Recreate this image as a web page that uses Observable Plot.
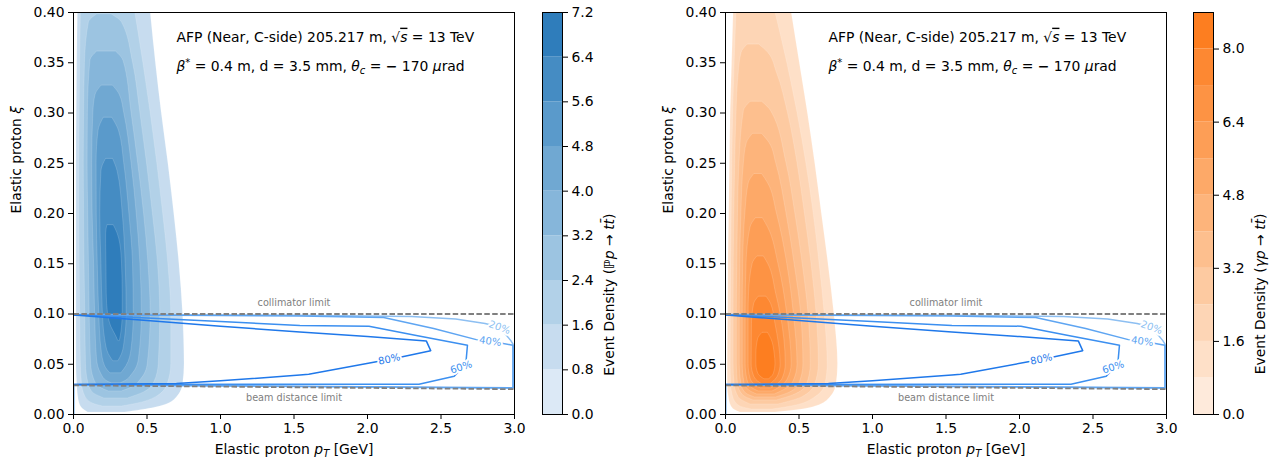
<!DOCTYPE html>
<html><head><meta charset="utf-8">
<script src="https://cdn.jsdelivr.net/npm/d3@7"></script>
<script src="https://cdn.jsdelivr.net/npm/@observablehq/plot@0.6"></script>
<style>
body{margin:0;background:#fff;width:1273px;height:457px;overflow:hidden;position:relative;font-family:"DejaVu Sans";}
.part{position:absolute;top:0;}
svg{overflow:visible;}
</style></head><body>
<div id="p1" class="part" style="left:0px"></div>
<div id="c1" class="part" style="left:521px"></div>
<div id="p2" class="part" style="left:652px"></div>
<div id="c2" class="part" style="left:1172px"></div>
<script>
// ---------- ticks & levels ----------
const xTicks = [0, 0.5, 1.0, 1.5, 2.0, 2.5, 3.0];
const yTicks = [0, 0.05, 0.10, 0.15, 0.20, 0.25, 0.30, 0.35, 0.40];
const blueBounds = [0, 0.8, 1.6, 2.4, 3.2, 4.0, 4.8, 5.6, 6.4, 7.2];
const blueTicks = [0, 0.8, 1.6, 2.4, 3.2, 4.0, 4.8, 5.6, 6.4, 7.2];
const orangeBounds = [0, 0.8, 1.6, 2.4, 3.2, 4.0, 4.8, 5.6, 6.4, 7.2, 8.0, 8.8];
const orangeTicks = [0, 1.6, 3.2, 4.8, 6.4, 8.0];

// ---------- density bands (PP -> tt): [xi, pT left, pT right], band k = level k..k+1 ----------
const blueBand1 = [[0.400,0.030,0.525],[0.350,0.025,0.560],[0.300,0.022,0.600],[0.250,0.020,0.645],[0.200,0.020,0.685],[0.150,0.020,0.720],[0.100,0.020,0.745],[0.050,0.020,0.755],[0.030,0.025,0.745],[0.015,0.035,0.690],[0.007,0.055,0.560],[0.002,0.100,0.350]];
const blueBand2 = [[0.400,0.050,0.420],[0.350,0.045,0.475],[0.300,0.042,0.525],[0.250,0.040,0.570],[0.200,0.040,0.610],[0.150,0.042,0.645],[0.100,0.045,0.665],[0.050,0.050,0.665],[0.030,0.058,0.640],[0.018,0.080,0.570],[0.011,0.130,0.440],[0.008,0.200,0.330]];
const blueBand3 = [[0.398,0.160,0.260],[0.390,0.105,0.330],[0.350,0.078,0.405],[0.300,0.072,0.455],[0.250,0.070,0.500],[0.200,0.072,0.540],[0.150,0.075,0.575],[0.100,0.080,0.590],[0.050,0.085,0.580],[0.032,0.100,0.550],[0.022,0.130,0.480],[0.016,0.210,0.370]];
const blueBand4 = [[0.361,0.160,0.290],[0.352,0.115,0.340],[0.300,0.098,0.395],[0.250,0.096,0.440],[0.200,0.100,0.480],[0.150,0.105,0.510],[0.100,0.110,0.525],[0.050,0.120,0.505],[0.035,0.140,0.460],[0.027,0.180,0.400],[0.023,0.240,0.330]];
const blueBand5 = [[0.327,0.190,0.270],[0.318,0.150,0.315],[0.300,0.135,0.345],[0.250,0.127,0.395],[0.200,0.130,0.430],[0.150,0.140,0.455],[0.100,0.147,0.465],[0.055,0.160,0.445],[0.040,0.190,0.400],[0.033,0.230,0.350],[0.031,0.260,0.320]];
const blueBand6 = [[0.295,0.205,0.265],[0.282,0.170,0.310],[0.250,0.157,0.345],[0.200,0.158,0.380],[0.150,0.165,0.405],[0.100,0.175,0.410],[0.065,0.190,0.395],[0.048,0.215,0.360],[0.041,0.250,0.325]];
const blueBand7 = [[0.254,0.220,0.270],[0.242,0.190,0.300],[0.200,0.182,0.335],[0.150,0.190,0.355],[0.100,0.200,0.362],[0.075,0.215,0.350],[0.060,0.240,0.330],[0.053,0.270,0.305]];
const blueBand8 = [[0.188,0.230,0.275],[0.180,0.222,0.300],[0.170,0.222,0.318],[0.150,0.224,0.330],[0.120,0.226,0.335],[0.100,0.235,0.335],[0.087,0.258,0.330],[0.078,0.290,0.322],[0.073,0.305,0.315]];

// ---------- density bands (gamma p -> tt) ----------
const orangeBand1 = [[0.400,0.055,0.450],[0.350,0.045,0.505],[0.300,0.035,0.560],[0.250,0.030,0.610],[0.200,0.025,0.655],[0.150,0.020,0.700],[0.100,0.018,0.740],[0.050,0.015,0.765],[0.030,0.015,0.755],[0.015,0.025,0.700],[0.006,0.050,0.560],[0.002,0.100,0.340]];
const orangeBand2 = [[0.400,0.075,0.340],[0.350,0.062,0.420],[0.300,0.052,0.490],[0.250,0.046,0.550],[0.200,0.042,0.600],[0.150,0.038,0.640],[0.100,0.036,0.675],[0.050,0.035,0.695],[0.030,0.038,0.680],[0.016,0.055,0.600],[0.008,0.100,0.450],[0.005,0.180,0.320]];
const orangeBand3 = [[0.368,0.150,0.230],[0.360,0.110,0.290],[0.340,0.090,0.350],[0.300,0.075,0.425],[0.250,0.066,0.490],[0.200,0.060,0.540],[0.150,0.056,0.585],[0.100,0.055,0.620],[0.050,0.055,0.635],[0.030,0.062,0.610],[0.017,0.090,0.520],[0.010,0.170,0.360]];
const orangeBand4 = [[0.311,0.170,0.250],[0.302,0.125,0.310],[0.250,0.095,0.415],[0.200,0.085,0.475],[0.150,0.080,0.525],[0.100,0.077,0.565],[0.050,0.077,0.580],[0.030,0.085,0.555],[0.019,0.120,0.460],[0.014,0.190,0.350]];
const orangeBand5 = [[0.279,0.185,0.250],[0.270,0.145,0.300],[0.250,0.125,0.345],[0.200,0.108,0.415],[0.150,0.100,0.470],[0.100,0.097,0.515],[0.050,0.097,0.530],[0.030,0.108,0.500],[0.021,0.140,0.425],[0.017,0.200,0.345]];
const orangeBand6 = [[0.239,0.195,0.250],[0.230,0.158,0.290],[0.200,0.135,0.350],[0.150,0.120,0.420],[0.100,0.117,0.465],[0.050,0.117,0.490],[0.032,0.128,0.460],[0.024,0.160,0.395],[0.020,0.215,0.335]];
const orangeBand7 = [[0.195,0.205,0.255],[0.186,0.170,0.290],[0.150,0.143,0.360],[0.100,0.137,0.420],[0.050,0.137,0.450],[0.034,0.150,0.420],[0.026,0.185,0.360],[0.023,0.225,0.320]];
const orangeBand8 = [[0.157,0.215,0.262],[0.150,0.185,0.290],[0.120,0.160,0.345],[0.100,0.157,0.375],[0.050,0.157,0.410],[0.036,0.170,0.390],[0.029,0.205,0.345],[0.026,0.240,0.310]];
const orangeBand9 = [[0.117,0.225,0.280],[0.110,0.195,0.310],[0.090,0.180,0.340],[0.050,0.178,0.375],[0.039,0.192,0.360],[0.033,0.220,0.330],[0.030,0.250,0.305]];
const orangeBand10 = [[0.081,0.250,0.290],[0.075,0.222,0.312],[0.060,0.210,0.335],[0.050,0.210,0.340],[0.041,0.222,0.330],[0.037,0.245,0.312],[0.035,0.265,0.295]];

// ---------- acceptance contours: [pT, xi] ----------
const acc20 = [[0.003,0.0995],[1.5,0.0988],[2.3,0.0975],[2.6,0.0950],[2.8,0.0905],[2.9,0.0868],[2.975,0.0735],[2.99,0.0700],[2.99,0.0262],[1.5,0.0278],[0.003,0.0295],[0.003,0.0]];
const acc40 = [[0.003,0.0993],[1.0,0.0985],[1.54,0.0980],[2.11,0.0965],[2.45,0.0855],[2.74,0.0745],[2.85,0.0726],[2.97,0.0695],[2.99,0.0690],[2.99,0.0265],[1.5,0.0282],[0.003,0.0297]];
const acc60 = [[0.003,0.0993],[0.5,0.0960],[1.0,0.0925],[1.54,0.0885],[2.01,0.0879],[2.35,0.0780],[2.68,0.0690],[2.67,0.0524],[2.64,0.0458],[2.59,0.0380],[2.35,0.0302],[1.5,0.0302],[0.003,0.0299]];
const acc80 = [[0.003,0.0990],[0.5,0.0935],[1.0,0.0878],[1.54,0.0820],[2.0,0.0775],[2.40,0.0732],[2.43,0.0635],[2.15,0.0547],[2.06,0.0524],[1.6,0.0400],[1.54,0.0392],[1.0,0.0335],[0.7,0.0308],[0.003,0.0298]];
const accLabels = [{t:"20%", x:2.898, y:0.0866}, {t:"40%", x:2.835, y:0.0727}, {t:"60%", x:2.637, y:0.0470}, {t:"80%", x:2.148, y:0.0549}];

// ---------- limits ----------
const limits = [{x1:0, y1:0.100, x2:3, y2:0.100}, {x1:0, y1:0.0290, x2:3, y2:0.0252}];
const limitLabels = [{t:"collimator limit", x:1.5, y:0.1107}, {t:"beam distance limit", x:1.5, y:0.0162}];

// ---------- texts ----------
const annot = [{t:"AFP (Near, C-side) 205.217 m, √s = 13 TeV", x:0.70, y:0.3754}, {t:"β* = 0.4 m, d = 3.5 mm, θc = − 170 μrad", x:0.70, y:0.3465}];
const xLabel = "Elastic proton pT [GeV]";
const yLabel = "Elastic proton ξ";
const blueLabel = "Event Density (ℙp → tt̄)";
const orangeLabel = "Event Density (γp → tt̄)";

const blueColors = ["#dce9f6","#c7dcef","#b2d1e8","#9cc4e1","#86b6da","#70a8d2","#5a9acb","#458cc3","#2f7dbb"];
const orangeColors = ["#feeadb","#fee0c8","#fdd5b5","#fdcaa1","#fdbf8e","#fdb47b","#fda968","#fd9e56","#fd9344","#fd8832","#fd7e20"];
const accColors = {"20%":"#8dbff2","40%":"#5ea5f2","60%":"#3b8ff0","80%":"#1f78ea"};
const accRot = {"20%":20,"40%":8,"60%":-18,"80%":-12};

const rich = {
  [xLabel]: 'Elastic proton <tspan font-style="italic">p</tspan><tspan dy="3" font-size="10px" font-style="italic">T</tspan><tspan dy="-3"> [GeV]</tspan>',
  [yLabel]: 'Elastic proton <tspan font-style="italic">ξ</tspan>',
  [annot[0].t]: 'AFP (Near, C-side) 205.217 m, √<tspan font-style="italic" text-decoration="overline">s</tspan> = 13 TeV',
  [annot[1].t]: '<tspan font-style="italic">β</tspan><tspan dy="-5" font-size="10px">*</tspan><tspan dy="5"> = 0.4 m, d = 3.5 mm, </tspan><tspan font-style="italic">θ</tspan><tspan dy="3" font-size="10px" font-style="italic">c</tspan><tspan dy="-3"> = </tspan><tspan font-weight="bold">−</tspan> 170 <tspan font-style="italic">μ</tspan>rad',
  [blueLabel]: 'Event Density (ℙ<tspan font-style="italic">p</tspan> → <tspan font-style="italic">tt̄</tspan>)',
  [orangeLabel]: 'Event Density (<tspan font-style="italic">γp</tspan> → <tspan font-style="italic">tt̄</tspan>)'
};

const FONT = {fontFamily: "'DejaVu Sans', sans-serif", fontSize: "13.9px", background: "none", color: "black", overflow: "visible"};

function enrich(svg) {
  svg.style.overflow = "visible";
  svg.querySelectorAll("text").forEach(t => {
    const k = t.textContent;
    if (rich[k]) t.innerHTML = rich[k];
  });
  return svg;
}

function panel(bands, bounds, colors) {
  const colorScale = {type: "threshold", domain: bounds.slice(1, -1), range: colors};
  const bandMarks = bands.map((rows, i) => {
    const mid = (bounds[i + 1] + bounds[i + 2]) / 2;
    return Plot.areaX(rows, {y: d => d[0], x1: d => d[1], x2: d => d[2], fill: () => mid, curve: "monotone-y", clip: true, stroke: "white", strokeOpacity: 0.25, strokeWidth: 0.6});
  });
  const accMarks = [["20%", acc20], ["40%", acc40], ["60%", acc60], ["80%", acc80]].map(([k, pts]) =>
    Plot.line(pts, {x: d => d[0], y: d => d[1], stroke: accColors[k], strokeWidth: 1.5}));
  const labelMarks = accLabels.map(l => Plot.text([l], {x: "x", y: "y", text: "t", fill: accColors[l.t], stroke: "white", strokeWidth: 4, rotate: accRot[l.t], fontSize: 10}));
  return Plot.plot({
    width: 520, height: 457, marginLeft: 73, marginRight: 6, marginTop: 12, marginBottom: 43,
    style: FONT,
    x: {domain: [0, 3]},
    y: {domain: [0, 0.4]},
    color: colorScale,
    marks: [
      ...bandMarks,
      ...accMarks,
      ...labelMarks,
      Plot.link(limits, {x1: "x1", y1: "y1", x2: "x2", y2: "y2", stroke: "#808080", strokeWidth: 1.8, strokeDasharray: "5.5,2.4"}),
      Plot.text(limitLabels, {x: "x", y: "y", text: "t", fill: "#808080", fontSize: 9.7}),
      Plot.text(annot, {x: "x", y: "y", text: "t", textAnchor: "start", lineAnchor: "middle"}),
      Plot.axisX({ticks: xTicks, tickFormat: ".1f", tickSize: 5, tickPadding: 4, label: null}),
      Plot.axisY({ticks: yTicks, tickFormat: ".2f", tickSize: 5, tickPadding: 4, label: null}),
      Plot.frame({stroke: "black", strokeWidth: 1}),
      Plot.text([xLabel], {text: d => d, frameAnchor: "bottom", dy: 35, lineAnchor: "middle"}),
      Plot.text([yLabel], {text: d => d, frameAnchor: "left", dx: -56.5, rotate: -90, lineAnchor: "middle"})
    ]
  });
}

function colorbar(bounds, colors, ticks, label) {
  const colorScale = {type: "threshold", domain: bounds.slice(1, -1), range: colors};
  const cells = bounds.slice(0, -1).map((lo, i) => ({lo, hi: bounds[i + 1]}));
  return Plot.plot({
    width: 101, height: 457, marginLeft: 21, marginRight: 60, marginTop: 12, marginBottom: 43,
    style: FONT,
    x: {domain: [0, 1], axis: null},
    y: {domain: [bounds[0], bounds[bounds.length - 1]]},
    color: colorScale,
    marks: [
      Plot.rect(cells, {x1: 0, x2: 1, y1: "lo", y2: "hi", fill: d => (d.lo + d.hi) / 2}),
      Plot.axisY({anchor: "right", ticks, tickFormat: ".1f", tickSize: 5, tickPadding: 4, label: null}),
      Plot.frame({stroke: "black", strokeWidth: 1}),
      Plot.text([label], {text: d => d, frameAnchor: "right", dx: 47, rotate: -90, lineAnchor: "middle"})
    ]
  });
}

const blueBands = [blueBand1, blueBand2, blueBand3, blueBand4, blueBand5, blueBand6, blueBand7, blueBand8];
const orangeBands = [orangeBand1, orangeBand2, orangeBand3, orangeBand4, orangeBand5, orangeBand6, orangeBand7, orangeBand8, orangeBand9, orangeBand10];

document.getElementById("p1").append(enrich(panel(blueBands, blueBounds, blueColors)));
document.getElementById("c1").append(enrich(colorbar(blueBounds, blueColors, blueTicks, blueLabel)));
document.getElementById("p2").append(enrich(panel(orangeBands, orangeBounds, orangeColors)));
document.getElementById("c2").append(enrich(colorbar(orangeBounds, orangeColors, orangeTicks, orangeLabel)));
</script>
</body></html>
